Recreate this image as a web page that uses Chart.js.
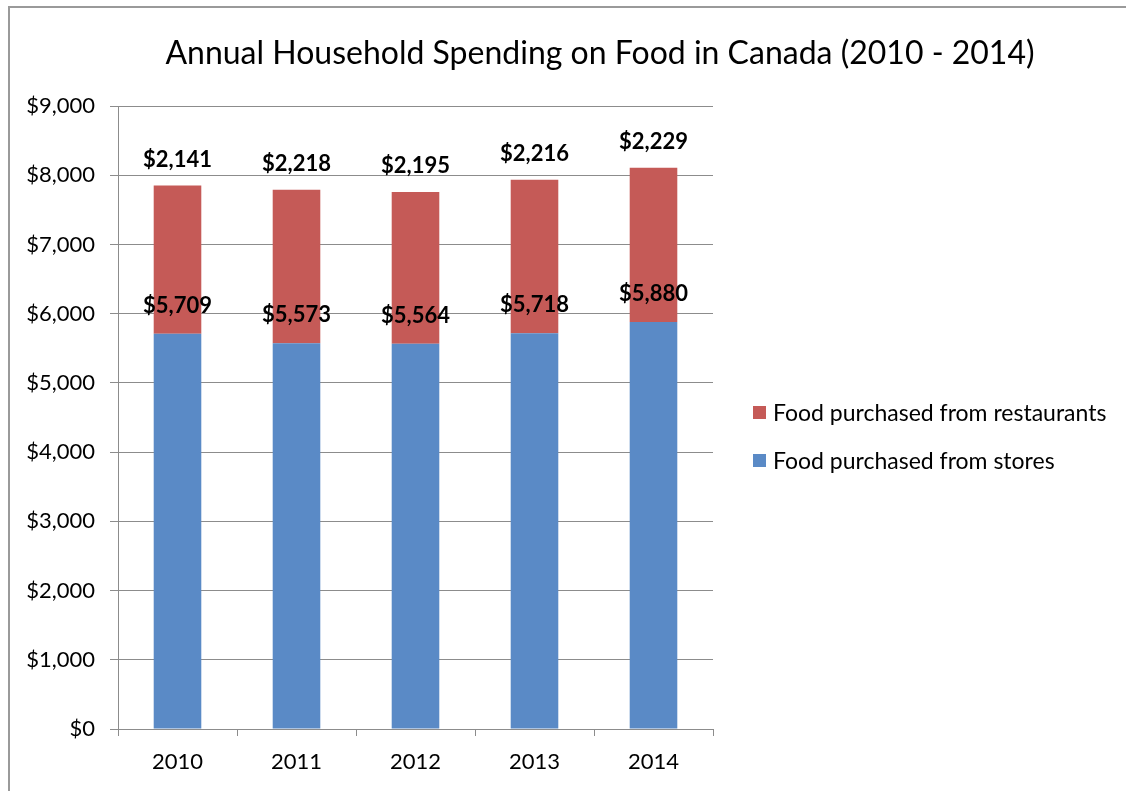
<!DOCTYPE html>
<html>
<head>
<meta charset="utf-8">
<script src="https://cdn.jsdelivr.net/npm/chart.js@4/dist/chart.umd.min.js"></script>
<style>
  html, body { margin: 0; padding: 0; background: #fff; }
  #wrap { position: relative; width: 1126px; height: 791px; overflow: hidden; font-family: Lato, "Open Sans", sans-serif; }
  #frame { position: absolute; left: 8px; top: 6px; width: 1200px; height: 900px; border-left: 2px solid #9a9a9a; border-top: 2px solid #9a9a9a; }
  #title { position: absolute; left: 0; width: 1200px; top: 30px; text-align: center; font-size: 32px; color: #000; line-height: 44px; }
  #legend { position: absolute; left: 753px; top: 396px; font-size: 23px; color: #000; }
  .lg { display: flex; align-items: center; height: 32px; margin-bottom: 16px; white-space: nowrap; }
  .sw { width: 13px; height: 13px; margin-right: 7px; flex: none; }
  canvas { position: absolute; left: 0; top: 0; }
</style>
</head>
<body>
<div id="wrap">
  <div id="frame"></div>
  <canvas id="c" width="1126" height="791"></canvas>
  <div id="title">Annual Household Spending on Food in Canada (2010 - 2014)</div>
  <div id="legend"></div>
</div>
<script>
  // ---- data ----
  const years = ['2010', '2011', '2012', '2013', '2014'];
  const fromStores = [5709, 5573, 5564, 5718, 5880];
  const fromRestaurants = [2141, 2218, 2195, 2216, 2229];
  const yTicks = [0, 1000, 2000, 3000, 4000, 5000, 6000, 7000, 8000, 9000];

  const BLUE = '#5A8AC6', RED = '#C55A57', GRID = '#8c8c8c';
  const money = (v) => '$' + Math.round(v).toLocaleString('en-US');

  // legend (restaurants listed first, as in the original)
  const legendItems = [
    { label: 'Food purchased from restaurants', color: RED },
    { label: 'Food purchased from stores', color: BLUE }
  ];
  document.getElementById('legend').innerHTML = legendItems.map(it =>
    '<div class="lg"><div class="sw" style="background:' + it.color + '"></div>' + it.label + '</div>').join('');

  // value labels above each segment
  const valueLabels = {
    id: 'valueLabels',
    afterDatasetsDraw(chart) {
      const ctx = chart.ctx;
      ctx.save();
      ctx.font = 'bold 22px Lato, "Open Sans", sans-serif';
      ctx.fillStyle = '#000';
      ctx.textAlign = 'center';
      ctx.textBaseline = 'middle';
      chart.data.datasets.forEach((ds, di) => {
        const meta = chart.getDatasetMeta(di);
        const off = di === 0 ? 28 : 26;
        meta.data.forEach((bar, i) => {
          ctx.fillText(money(ds.data[i]), bar.x, bar.y - off);
        });
      });
      ctx.restore();
    }
  };

  new Chart(document.getElementById('c'), {
    type: 'bar',
    data: {
      labels: years,
      datasets: [
        { label: 'Food purchased from stores', data: fromStores, backgroundColor: BLUE, barPercentage: 0.4, categoryPercentage: 1 },
        { label: 'Food purchased from restaurants', data: fromRestaurants, backgroundColor: RED, barPercentage: 0.4, categoryPercentage: 1 }
      ]
    },
    options: {
      responsive: false, animation: false, devicePixelRatio: 1,
      layout: { padding: { left: 10, top: 106, right: 413, bottom: 0 } },
      plugins: { legend: { display: false }, tooltip: { enabled: false } },
      scales: {
        x: {
          stacked: true,
          afterFit: (s) => { s.height = 62; },
          grid: { offset: true, drawOnChartArea: false, drawTicks: true, tickLength: 7, color: GRID },
          border: { color: GRID, width: 1 },
          ticks: { color: '#000', padding: 13, font: { family: 'Lato', size: 22 } }
        },
        y: {
          stacked: true, min: 0, max: 9000,
          afterBuildTicks: (s) => { s.ticks = yTicks.map(v => ({ value: v })); },
          afterFit: (s) => { s.width = 108; },
          grid: { color: GRID, drawTicks: true, tickLength: 8 },
          border: { color: GRID, width: 1 },
          ticks: { color: '#000', padding: 15, font: { family: 'Lato', size: 22 }, callback: (v) => money(v) }
        }
      }
    },
    plugins: [valueLabels]
  });
</script>
</body>
</html>
